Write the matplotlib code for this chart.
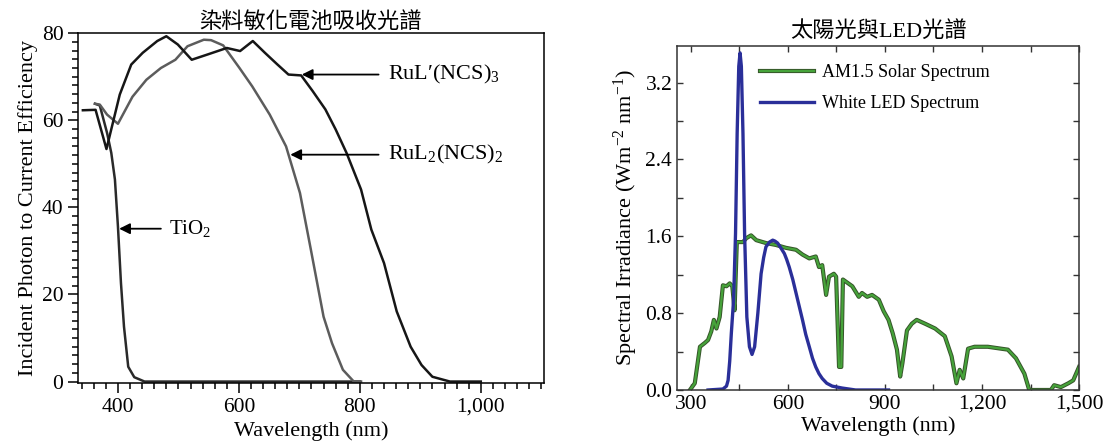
import numpy as np
import matplotlib
matplotlib.use("Agg")
import matplotlib.pyplot as plt
import matplotlib.patheffects as pe
from matplotlib.ticker import MultipleLocator, FuncFormatter

plt.rcParams['font.family'] = ['Liberation Serif', 'Noto Sans CJK TC']
plt.rcParams['mathtext.fontset'] = 'custom'
plt.rcParams['mathtext.rm'] = 'Liberation Serif'
plt.rcParams['mathtext.it'] = 'Liberation Serif:italic'

# left panel: IPCE curves (nm, %)
rul3_x = [342, 363, 381, 403, 422, 441, 465, 480, 499, 522, 548, 580, 602, 623, 643,
          663, 682, 703, 722, 743, 760, 778, 802, 819, 840, 861, 884, 902, 920, 949, 1000]
rul3_y = [62.3, 62.4, 53.4, 65.9, 72.8, 75.5, 78.2, 79.3, 77.4, 73.9, 75.1, 76.6, 75.9, 78.2, 75.5,
          72.9, 70.5, 70.3, 66.7, 62.5, 57.9, 52.5, 44.1, 34.9, 27.2, 16.1, 8.0, 3.8, 1.1, 0, 0]

rul2_x = [362, 370, 382, 400, 424, 447, 471, 495, 515, 542, 554, 574, 601, 622, 651,
          678, 701, 719, 740, 754, 772, 790, 802]
rul2_y = [63.8, 63.6, 61.3, 59.2, 65.4, 69.3, 72.0, 73.9, 77.0, 78.5, 78.4, 77.2, 72.0, 67.8, 61.3,
          54.0, 43.3, 30.3, 14.9, 8.8, 2.7, 0, 0]

tio2_x = [362, 370, 382, 389, 395, 400, 405, 410, 417, 427, 444, 600, 800]
tio2_y = [63.8, 63.4, 57.1, 52.5, 46.4, 35.6, 22.6, 12.6, 3.4, 1.0, 0, 0, 0]

# right panel: spectra (nm, W m^-2 nm^-1)
sun_x = [297, 312, 328, 343, 353, 363, 371, 379, 389, 399, 410, 420, 428, 435, 442, 461, 471, 486,
         502, 532, 563, 594, 625, 645, 666, 686, 696, 706, 718, 727, 742, 749, 758, 765, 770, 799,
         819, 829, 845, 860, 881, 896, 911, 924, 937, 947, 954, 968, 983, 998, 1024, 1055, 1085,
         1106, 1121, 1131, 1142, 1157, 1177, 1218, 1259, 1280, 1305, 1331, 1346, 1413, 1423, 1444,
         1467, 1482, 1500]
sun_y = [0, 0.07, 0.45, 0.49, 0.52, 0.61, 0.73, 0.64, 0.76, 1.09, 1.08, 1.11, 1.08, 0.83, 1.54, 1.54,
         1.58, 1.61, 1.56, 1.53, 1.51, 1.48, 1.46, 1.41, 1.37, 1.39, 1.28, 1.30, 0.99, 1.18, 1.21,
         1.18, 0.24, 0.24, 1.15, 1.08, 0.97, 1.01, 0.97, 0.99, 0.94, 0.82, 0.73, 0.59, 0.42, 0.14,
         0.28, 0.62, 0.69, 0.73, 0.69, 0.64, 0.56, 0.35, 0.07, 0.21, 0.12, 0.43, 0.45, 0.45, 0.43,
         0.42, 0.33, 0.17, 0, 0, 0.05, 0.03, 0.07, 0.10, 0.24]

led_x = [353, 399, 410, 415, 420, 425, 432, 438, 443, 448, 452, 456, 461, 466, 473, 481, 489, 497,
         507, 517, 525, 532, 543, 553, 560, 568, 578, 589, 596, 604, 615, 625, 635, 645, 655, 666,
         676, 686, 696, 706, 720, 737, 768, 809, 911]
led_y = [0, 0.01, 0.04, 0.10, 0.30, 0.59, 0.94, 1.63, 2.67, 3.37, 3.51, 3.37, 2.67, 1.63, 0.76, 0.45,
         0.37, 0.45, 0.80, 1.21, 1.38, 1.49, 1.54, 1.56, 1.55, 1.53, 1.48, 1.42, 1.36, 1.28, 1.15,
         1.01, 0.87, 0.73, 0.58, 0.45, 0.33, 0.24, 0.17, 0.12, 0.07, 0.04, 0.02, 0, 0]

fig = plt.figure(figsize=(11.1, 4.46), dpi=100)

# ---- left panel
ax1 = fig.add_axes([0.0703, 0.1406, 0.4195, 0.785])
ax1.plot(tio2_x, tio2_y, color='#2a2a2a', lw=1.8)
ax1.plot(rul2_x, rul2_y, color='#5c5c5c', lw=1.8)
ax1.plot(rul3_x, rul3_y, color='#161616', lw=1.8)
ax1.set_xlim(334, 1104)
ax1.set_ylim(-0.4, 80)
ax1.xaxis.set_major_locator(MultipleLocator(200))
ax1.xaxis.set_minor_locator(MultipleLocator(20))
ax1.yaxis.set_major_locator(MultipleLocator(20))
ax1.yaxis.set_minor_locator(MultipleLocator(2))
ax1.xaxis.set_major_formatter(FuncFormatter(lambda v, p: f"{int(v):,}"))
ax1.tick_params(which='both', direction='out', top=False, right=False, labelsize=15.5, width=1.1)
ax1.tick_params(which='major', length=7)
ax1.tick_params(which='minor', length=4)
for s in ax1.spines.values():
    s.set_linewidth(1.1)
ax1.set_xlabel('Wavelength (nm)', fontsize=16, labelpad=3)
ax1.set_ylabel('Incident Photon to Current Efficiency', fontsize=16, labelpad=3)
ax1.set_title('染料敏化電池吸收光譜', fontsize=16, pad=4)

arrow = dict(arrowstyle='-|>', color='black', lw=1.3, mutation_scale=16, shrinkA=0, shrinkB=0)
ax1.annotate('', xy=(704, 70.5), xytext=(831, 70.5), arrowprops=arrow)
ax1.text(847, 70.5, 'RuL′(NCS)$_3$', fontsize=16, va='center')
ax1.annotate('', xy=(685, 52.1), xytext=(831, 52.1), arrowprops=arrow)
ax1.text(847, 52.1, 'RuL$_2$(NCS)$_2$', fontsize=16, va='center')
ax1.annotate('', xy=(402, 35.1), xytext=(471, 35.1), arrowprops=arrow)
ax1.text(485, 35.1, 'TiO$_2$', fontsize=15, va='center')

# ---- right panel
ax2 = fig.add_axes([0.6099, 0.1256, 0.3622, 0.772])
ax2.plot(sun_x, sun_y, color='#46a33a', lw=1.6, label='AM1.5 Solar Spectrum',
         path_effects=[pe.Stroke(linewidth=3.0, foreground='#36552a'), pe.Normal()])
ax2.plot(led_x, led_y, color='#2a2f99', lw=2.4, label='White LED Spectrum')
ax2.set_xlim(257, 1500)
ax2.set_ylim(0, 3.585)
ax2.xaxis.set_major_locator(MultipleLocator(300))
ax2.xaxis.set_minor_locator(MultipleLocator(150))
ax2.yaxis.set_major_locator(MultipleLocator(0.8))
ax2.yaxis.set_minor_locator(MultipleLocator(0.4))
ax2.xaxis.set_major_formatter(FuncFormatter(lambda v, p: f"{int(v):,}"))
ax2.yaxis.set_major_formatter(FuncFormatter(lambda v, p: f"{v:.1f}"))
ax2.tick_params(which='both', direction='in', top=True, right=True, labelsize=15.5,
                length=4, width=1.0, color='#333333')
for s in ax2.spines.values():
    s.set_linewidth(1.1)
    s.set_color('#333333')
ax2.set_xlabel('Wavelength (nm)', fontsize=16, labelpad=2)
ax2.set_ylabel('Spectral Irradiance (Wm$^{-2}$ nm$^{-1}$)', fontsize=16, labelpad=4)
ax2.set_title('太陽光與LED光譜', fontsize=16, pad=6)
ax2.legend(loc='upper left', bbox_to_anchor=(0.183, 0.972), frameon=False, fontsize=13,
           borderpad=0, handlelength=3, handletextpad=0.45, labelspacing=0.75)

fig.savefig('out.png', dpi=100)
